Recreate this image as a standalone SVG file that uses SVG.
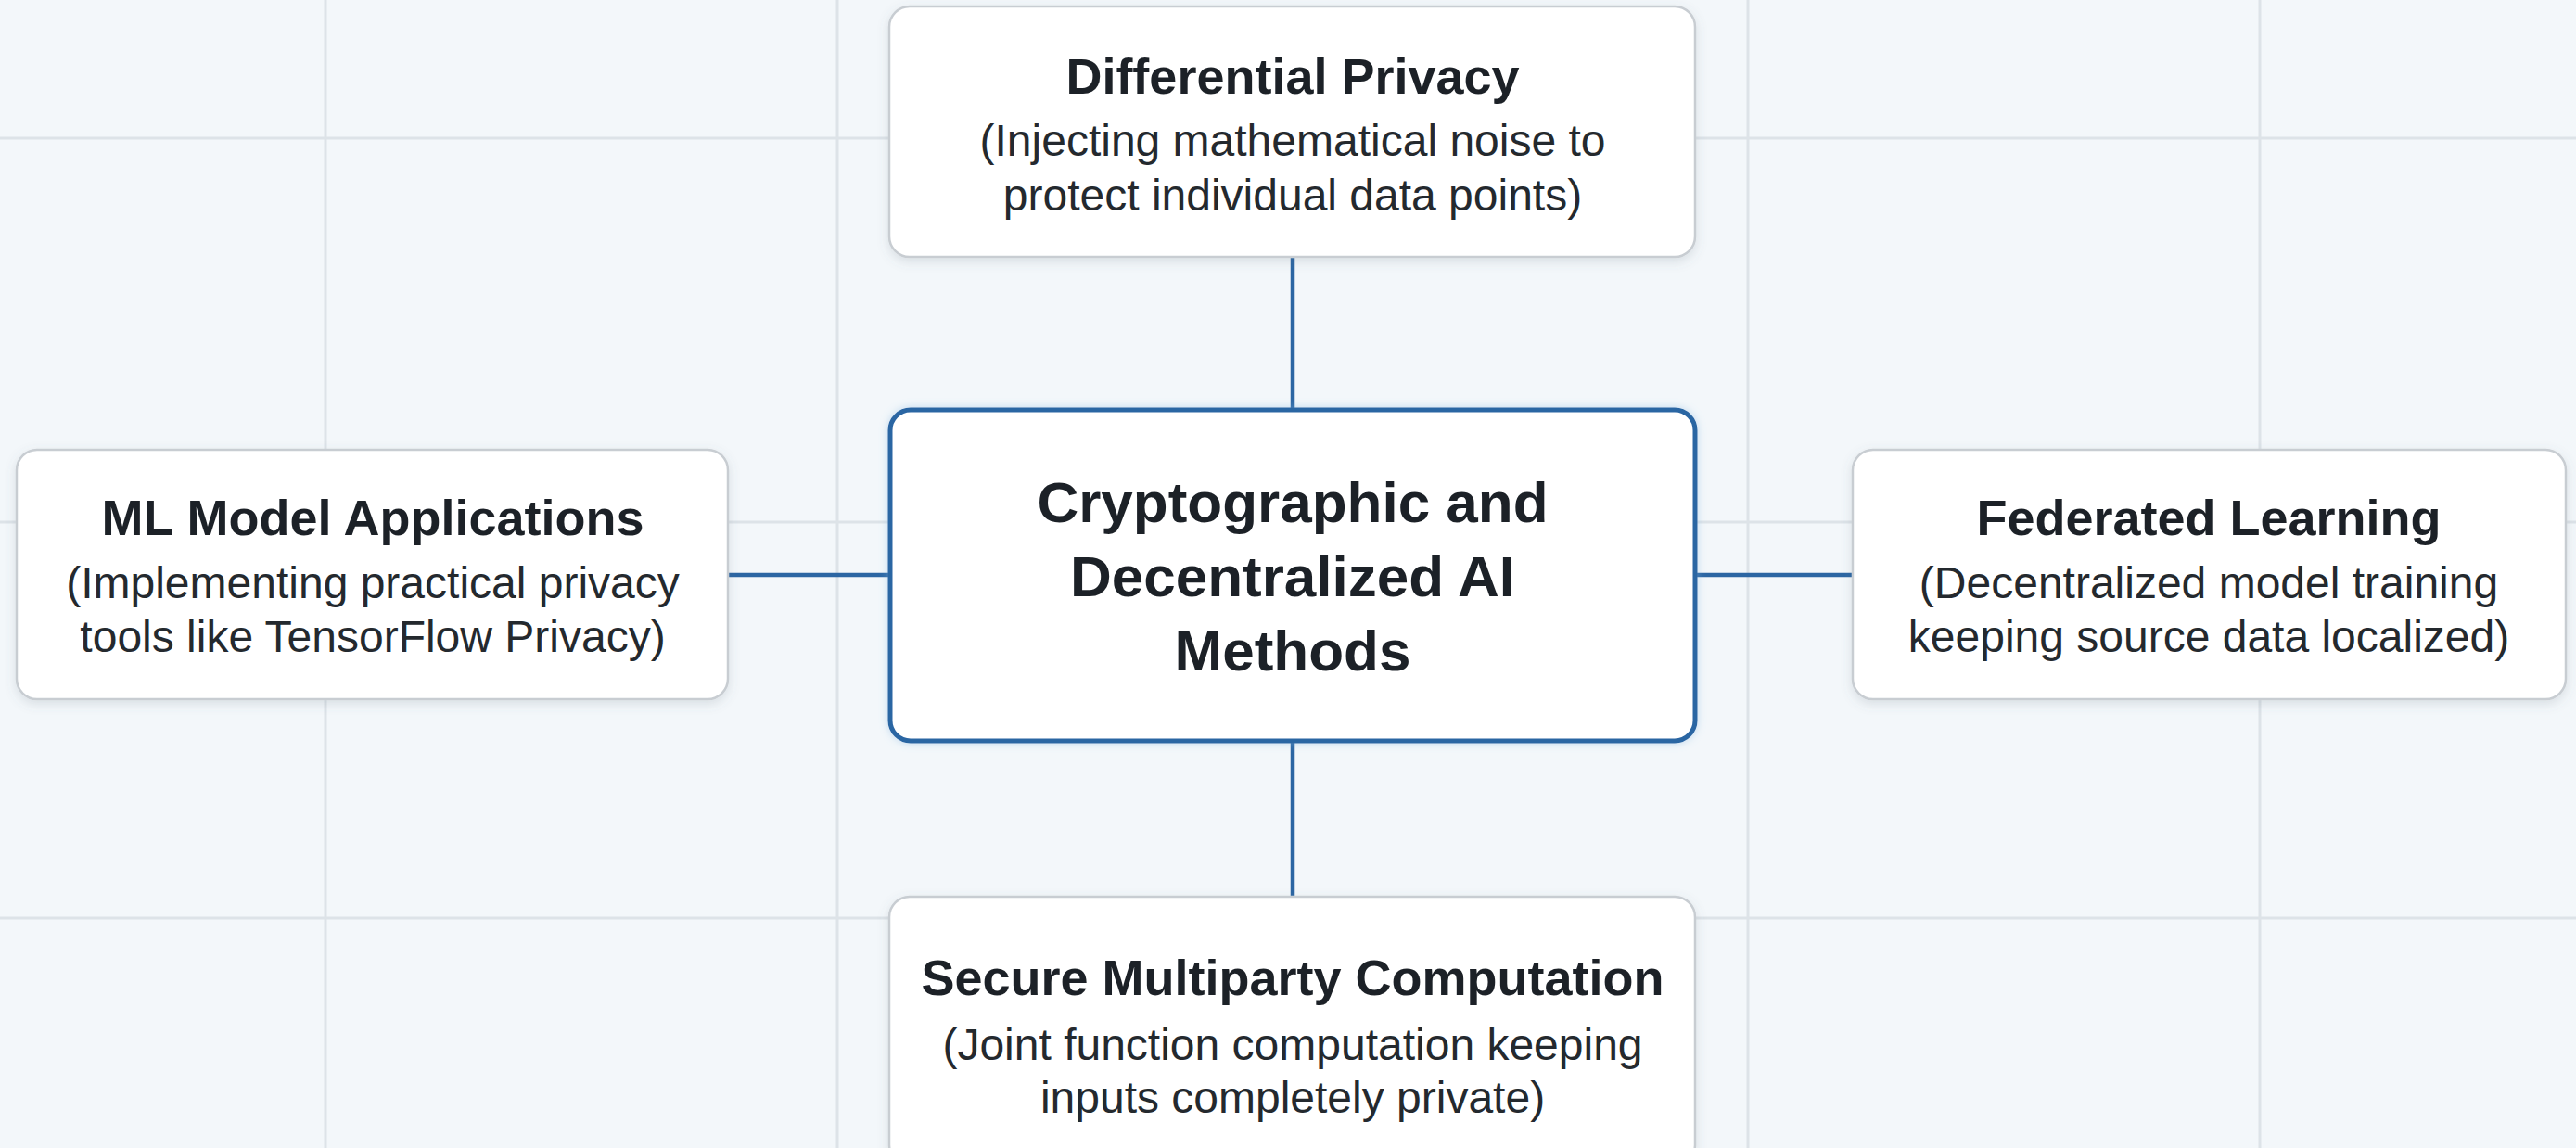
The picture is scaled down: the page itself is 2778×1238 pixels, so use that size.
<svg xmlns="http://www.w3.org/2000/svg" width="2778" height="1238" viewBox="0 0 2778 1238">
  <defs>
    <filter id="shadow" x="-10%" y="-10%" width="120%" height="130%">
      <feDropShadow dx="0" dy="4" stdDeviation="6" flood-color="#5a6b7d" flood-opacity="0.18"/>
    </filter>
    <filter id="glow" x="-10%" y="-10%" width="120%" height="130%">
      <feDropShadow dx="0" dy="0" stdDeviation="5" flood-color="#7fb3e0" flood-opacity="0.45"/>
    </filter>
    <style>
      .bg { fill: #f3f7fa; }
      .grid { stroke: #dde3e8; stroke-width: 3; fill: none; }
      .node { fill: #ffffff; stroke: #c8cdd2; stroke-width: 2.5; filter: url(#shadow); }
      .center { fill: #ffffff; stroke: #2c66a3; stroke-width: 5; filter: url(#glow); }
      .conn { stroke: #2c66a3; stroke-width: 4.5; fill: none; }
      .title { font-family: "Liberation Sans", Arial, sans-serif; font-weight: bold; font-size: 54px; fill: #1c2127; text-anchor: middle; }
      .sub { font-family: "Liberation Sans", Arial, sans-serif; font-size: 48px; fill: #24292e; text-anchor: middle; }
      .ctitle { font-family: "Liberation Sans", Arial, sans-serif; font-weight: bold; font-size: 62px; fill: #1c2127; text-anchor: middle; }
    </style>
  </defs>
  <rect class="bg" x="0" y="0" width="2778" height="1238"/>
  <g id="grid">
    <line class="grid" x1="351" y1="0" x2="351" y2="1238"/>
    <line class="grid" x1="903" y1="0" x2="903" y2="1238"/>
    <line class="grid" x1="1885" y1="0" x2="1885" y2="1238"/>
    <line class="grid" x1="2437" y1="0" x2="2437" y2="1238"/>
    <line class="grid" x1="0" y1="149" x2="2778" y2="149"/>
    <line class="grid" x1="0" y1="563" x2="2778" y2="563"/>
    <line class="grid" x1="0" y1="990" x2="2778" y2="990"/>
  </g>
  <g id="connectors">
    <line class="conn" x1="1394" y1="277" x2="1394" y2="442"/>
    <line class="conn" x1="1394" y1="799" x2="1394" y2="967"/>
    <line class="conn" x1="785" y1="620" x2="960" y2="620"/>
    <line class="conn" x1="1828" y1="620" x2="1998" y2="620"/>
  </g>
  <g id="node-dp">
    <rect class="node" x="959" y="7" width="869" height="270" rx="22"/>
    <text class="title" x="1394" y="101">Differential Privacy</text>
    <text class="sub" x="1394" y="168">(Injecting mathematical noise to</text>
    <text class="sub" x="1394" y="227">protect individual data points)</text>
  </g>
  <g id="node-ml">
    <rect class="node" x="18" y="485" width="767" height="269" rx="22"/>
    <text class="title" x="402" y="577">ML Model Applications</text>
    <text class="sub" x="402" y="645">(Implementing practical privacy</text>
    <text class="sub" x="402" y="703">tools like TensorFlow Privacy)</text>
  </g>
  <g id="node-center">
    <rect class="center" x="960" y="442" width="868" height="357" rx="22"/>
    <text class="ctitle" x="1394" y="563">Cryptographic and</text>
    <text class="ctitle" x="1394" y="643">Decentralized AI</text>
    <text class="ctitle" x="1394" y="723">Methods</text>
  </g>
  <g id="node-fl">
    <rect class="node" x="1998" y="485" width="769" height="269" rx="22"/>
    <text class="title" x="2382" y="577">Federated Learning</text>
    <text class="sub" x="2382" y="645">(Decentralized model training</text>
    <text class="sub" x="2382" y="703">keeping source data localized)</text>
  </g>
  <g id="node-smc">
    <rect class="node" x="959" y="967" width="869" height="290" rx="22"/>
    <text class="title" x="1394" y="1073">Secure Multiparty Computation</text>
    <text class="sub" x="1394" y="1143">(Joint function computation keeping</text>
    <text class="sub" x="1394" y="1200">inputs completely private)</text>
  </g>
</svg>
